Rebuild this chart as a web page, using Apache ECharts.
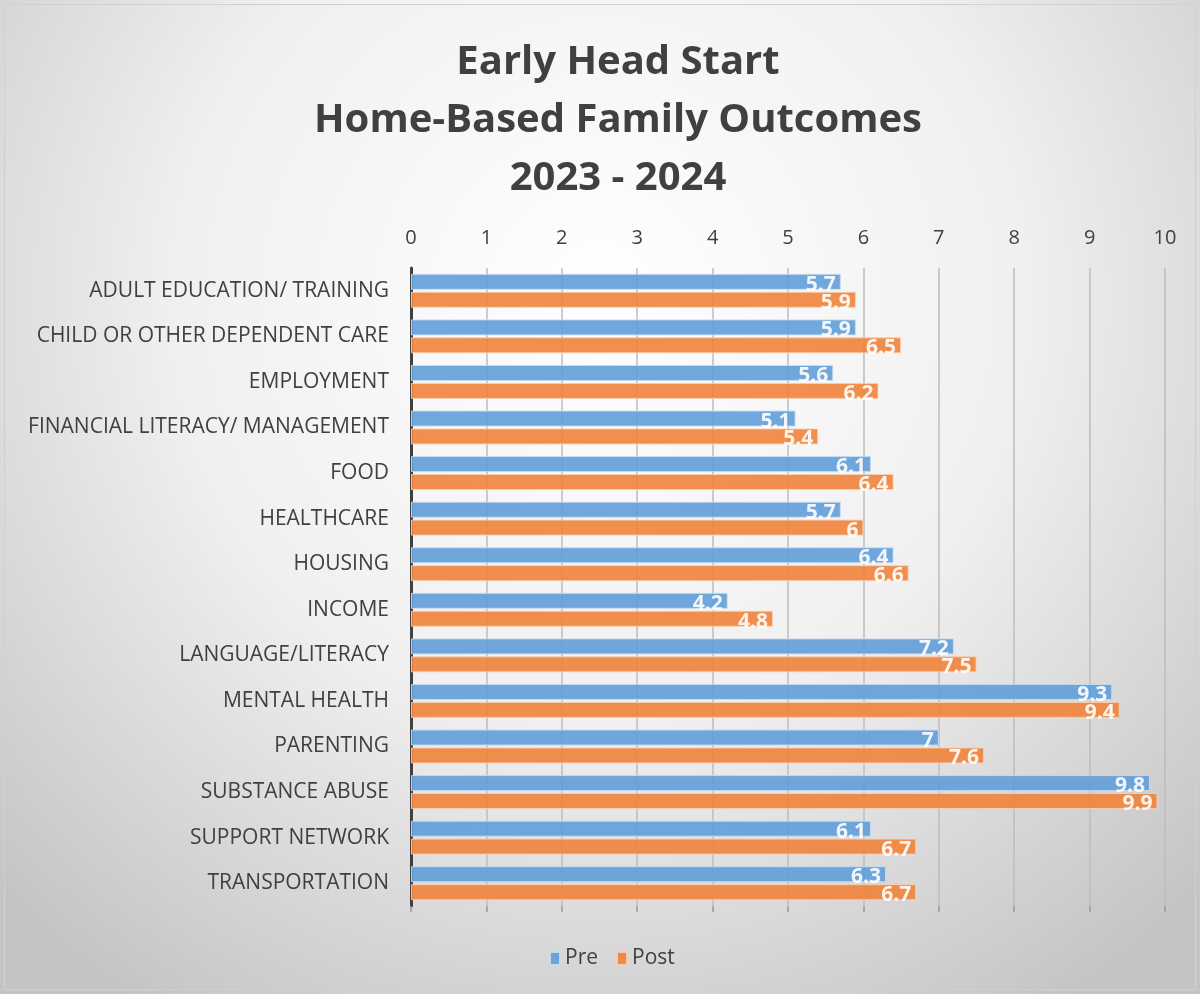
<!DOCTYPE html>
<html>
<head>
<meta charset="utf-8">
<script src="https://cdn.jsdelivr.net/npm/echarts@6/dist/echarts.min.js"></script>
<style>
  html, body { margin: 0; padding: 0; background: #fff; }
  #chart { width: 1200px; height: 994px; }
</style>
</head>
<body>
<div id="chart"></div>
<script>
const categories = [
  'ADULT EDUCATION/ TRAINING',
  'CHILD OR OTHER DEPENDENT CARE',
  'EMPLOYMENT',
  'FINANCIAL LITERACY/ MANAGEMENT',
  'FOOD',
  'HEALTHCARE',
  'HOUSING',
  'INCOME',
  'LANGUAGE/LITERACY',
  'MENTAL HEALTH',
  'PARENTING',
  'SUBSTANCE ABUSE',
  'SUPPORT NETWORK',
  'TRANSPORTATION'
];
const preValues = [5.7, 5.9, 5.6, 5.1, 6.1, 5.7, 6.4, 4.2, 7.2, 9.3, 7, 9.8, 6.1, 6.3];
const postValues = [5.9, 6.5, 6.2, 5.4, 6.4, 6, 6.6, 4.8, 7.5, 9.4, 7.6, 9.9, 6.7, 6.7];
const titleLines = ['Early Head Start', 'Home-Based Family Outcomes', '2023 - 2024'];

const FONT = '"Open Sans", "Noto Sans", sans-serif';
const TEXT = '#404040';

const chart = echarts.init(document.getElementById('chart'));

const barLabel = {
  show: true,
  position: 'insideRight',
  distance: 5,
  offset: [0, 3],
  color: '#fff',
  fontFamily: FONT,
  fontWeight: 'bold',
  fontSize: 21
};

const option = {
  backgroundColor: {
    type: 'radial', x: 0.5, y: 0.3, r: 0.85,
    colorStops: [
      { offset: 0, color: '#ffffff' },
      { offset: 0.5, color: '#f0f0f0' },
      { offset: 1, color: '#c4c4c4' }
    ]
  },
  title: {
    text: titleLines.join('\n'),
    left: 613,
    top: 29,
    textAlign: 'center',
    textStyle: {
      fontFamily: FONT,
      fontSize: 40,
      fontWeight: 'bold',
      color: TEXT,
      lineHeight: 58
    }
  },
  legend: {
    bottom: 20,
    left: 544,
    itemWidth: 10,
    itemHeight: 13,
    itemGap: 18,
    icon: 'rect',
    textStyle: { fontFamily: FONT, fontSize: 21, color: TEXT },
    data: ['Pre', 'Post']
  },
  grid: { left: 411, right: 35, top: 268, bottom: 88 },
  xAxis: [
    {
      type: 'value',
      position: 'top',
      min: 0,
      max: 10,
      interval: 1,
      axisLine: { show: false },
      axisTick: { show: false },
      axisLabel: { fontFamily: FONT, fontSize: 20, color: TEXT, margin: 20 },
      splitLine: { lineStyle: { color: '#bdbdbd', width: 1.5 } }
    },
    {
      type: 'value',
      position: 'bottom',
      min: 0,
      max: 10,
      interval: 1,
      axisLine: { show: false },
      axisTick: { show: true, length: 6, lineStyle: { color: '#9a9a9a', width: 1.5 } },
      axisLabel: { show: false },
      splitLine: { show: false }
    }
  ],
  yAxis: {
    type: 'category',
    data: categories,
    inverse: true,
    axisLine: { lineStyle: { color: '#404040', width: 3 } },
    axisTick: { show: false },
    axisLabel: { fontFamily: FONT, fontSize: 21, color: TEXT, margin: 22 }
  },
  series: [
    {
      name: 'Pre',
      type: 'bar',
      data: preValues,
      barWidth: 16,
      barGap: '12%',
      itemStyle: { color: '#619dd8', opacity: 0.9, borderColor: '#c9ddf1', borderWidth: 1 },
      label: barLabel
    },
    {
      name: 'Post',
      type: 'bar',
      data: postValues,
      barWidth: 16,
      barGap: '12%',
      itemStyle: { color: '#ee833b', opacity: 0.9, borderColor: '#f9cfb2', borderWidth: 1 },
      label: barLabel
    }
  ],
  graphic: [
    {
      type: 'rect',
      shape: { x: 4.5, y: 4.5, width: 1191, height: 985 },
      style: { fill: 'none', stroke: '#d0d0d0', lineWidth: 1 },
      silent: true
    }
  ]
};

chart.setOption(option);
</script>
</body>
</html>
